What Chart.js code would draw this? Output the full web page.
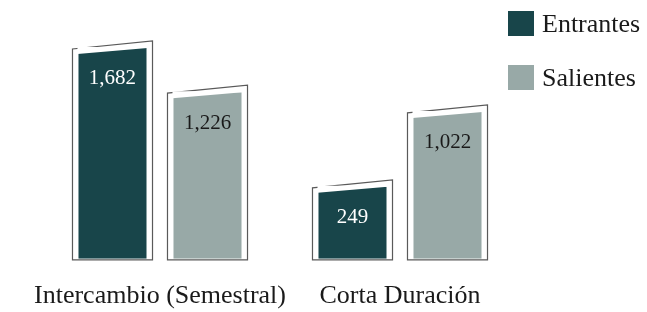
<!DOCTYPE html>
<html>
<head>
<meta charset="utf-8">
<script src="https://cdn.jsdelivr.net/npm/chart.js@4/dist/chart.umd.min.js"></script>
<style>
  html, body { margin: 0; padding: 0; background: #ffffff; overflow: hidden; }
  #wrap { position: relative; width: 647px; height: 312px; overflow: hidden; }
  #legend { position: absolute; left: 508px; top: 11px; font-family: 'Liberation Serif', serif; font-size: 26px; color: #1a1a1a; }
  .li { display: flex; align-items: center; height: 25px; margin-bottom: 29px; }
  .sw { width: 26px; height: 25px; margin-right: 8px; }
  .tx { line-height: 25px; white-space: nowrap; }
</style>
</head>
<body>
<div id="wrap">
  <canvas id="c"></canvas>
  <div id="legend"></div>
</div>
<script>
const categories = ['Intercambio (Semestral)', 'Corta Duración'];
const seriesNames = ['Entrantes', 'Salientes'];
const entrantes = [1682, 249];
const salientes = [1226, 1022];
const seriesColors = ['#18454a', '#98a9a7'];
const labelColors = ['#ffffff', '#1a1a1a'];
const axisMin = -494;
const axisMax = 1795;

const decor = {
  id: 'decor',
  beforeDatasetsDraw(chart) {
    const ctx = chart.ctx;
    chart.data.datasets.forEach((ds, di) => {
      chart.getDatasetMeta(di).data.forEach((el) => {
        const L = el.x - el.width / 2, R = el.x + el.width / 2;
        const b = el.base + 1;
        ctx.save();
        ctx.beginPath();
        ctx.moveTo(L - 6, b);
        ctx.lineTo(L - 6, el.y + 1);
        ctx.lineTo(R + 6, el.y - 7);
        ctx.lineTo(R + 6, b);
        ctx.closePath();
        ctx.fillStyle = '#ffffff';
        ctx.fill();
        ctx.strokeStyle = '#5a5a5a';
        ctx.lineWidth = 1.2;
        ctx.stroke();
        ctx.restore();
      });
    });
  },
  afterDatasetsDraw(chart) {
    const ctx = chart.ctx;
    chart.data.datasets.forEach((ds, di) => {
      chart.getDatasetMeta(di).data.forEach((el, i) => {
        const L = el.x - el.width / 2, R = el.x + el.width / 2;
        ctx.save();
        ctx.beginPath();
        ctx.moveTo(L - 1, el.y - 1);
        ctx.lineTo(R + 1, el.y - 1);
        ctx.lineTo(R + 1, el.y);
        ctx.lineTo(L - 1, el.y + 6);
        ctx.closePath();
        ctx.fillStyle = '#ffffff';
        ctx.fill();
        ctx.font = '21px "Liberation Serif"';
        ctx.fillStyle = labelColors[di];
        ctx.textAlign = 'center';
        ctx.textBaseline = 'middle';
        ctx.fillText(ds.data[i].toLocaleString('en-US'), el.x, el.y + 31);
        ctx.restore();
      });
    });
  }
};

const htmlLegend = {
  id: 'htmlLegend',
  afterUpdate(chart) {
    const box = document.getElementById('legend');
    box.innerHTML = '';
    chart.data.datasets.forEach((ds) => {
      const li = document.createElement('div');
      li.className = 'li';
      const sw = document.createElement('div');
      sw.className = 'sw';
      sw.style.background = ds.backgroundColor;
      const tx = document.createElement('span');
      tx.className = 'tx';
      tx.textContent = ds.label;
      li.appendChild(sw); li.appendChild(tx);
      box.appendChild(li);
    });
  }
};

new Chart(document.getElementById('c'), {
  type: 'bar',
  data: {
    labels: categories,
    datasets: [
      { label: seriesNames[0], data: entrantes, backgroundColor: seriesColors[0], base: axisMin },
      { label: seriesNames[1], data: salientes, backgroundColor: seriesColors[1], base: axisMin }
    ]
  },
  options: {
    responsive: true,
    maintainAspectRatio: false,
    animation: false,
    events: [],
    layout: { padding: { left: 40, right: 127, top: 37, bottom: -22 } },
    datasets: { bar: { categoryPercentage: 0.7917, barPercentage: 0.716 } },
    scales: {
      x: {
        grid: { display: false, drawTicks: false },
        border: { display: false },
        ticks: { padding: 22, maxRotation: 0, minRotation: 0, autoSkip: false, color: '#1a1a1a', font: { family: 'Liberation Serif', size: 26 } }
      },
      y: { display: false, min: axisMin, max: axisMax }
    },
    plugins: { legend: { display: false }, tooltip: { enabled: false } }
  },
  plugins: [decor, htmlLegend]
});
</script>
</body>
</html>
